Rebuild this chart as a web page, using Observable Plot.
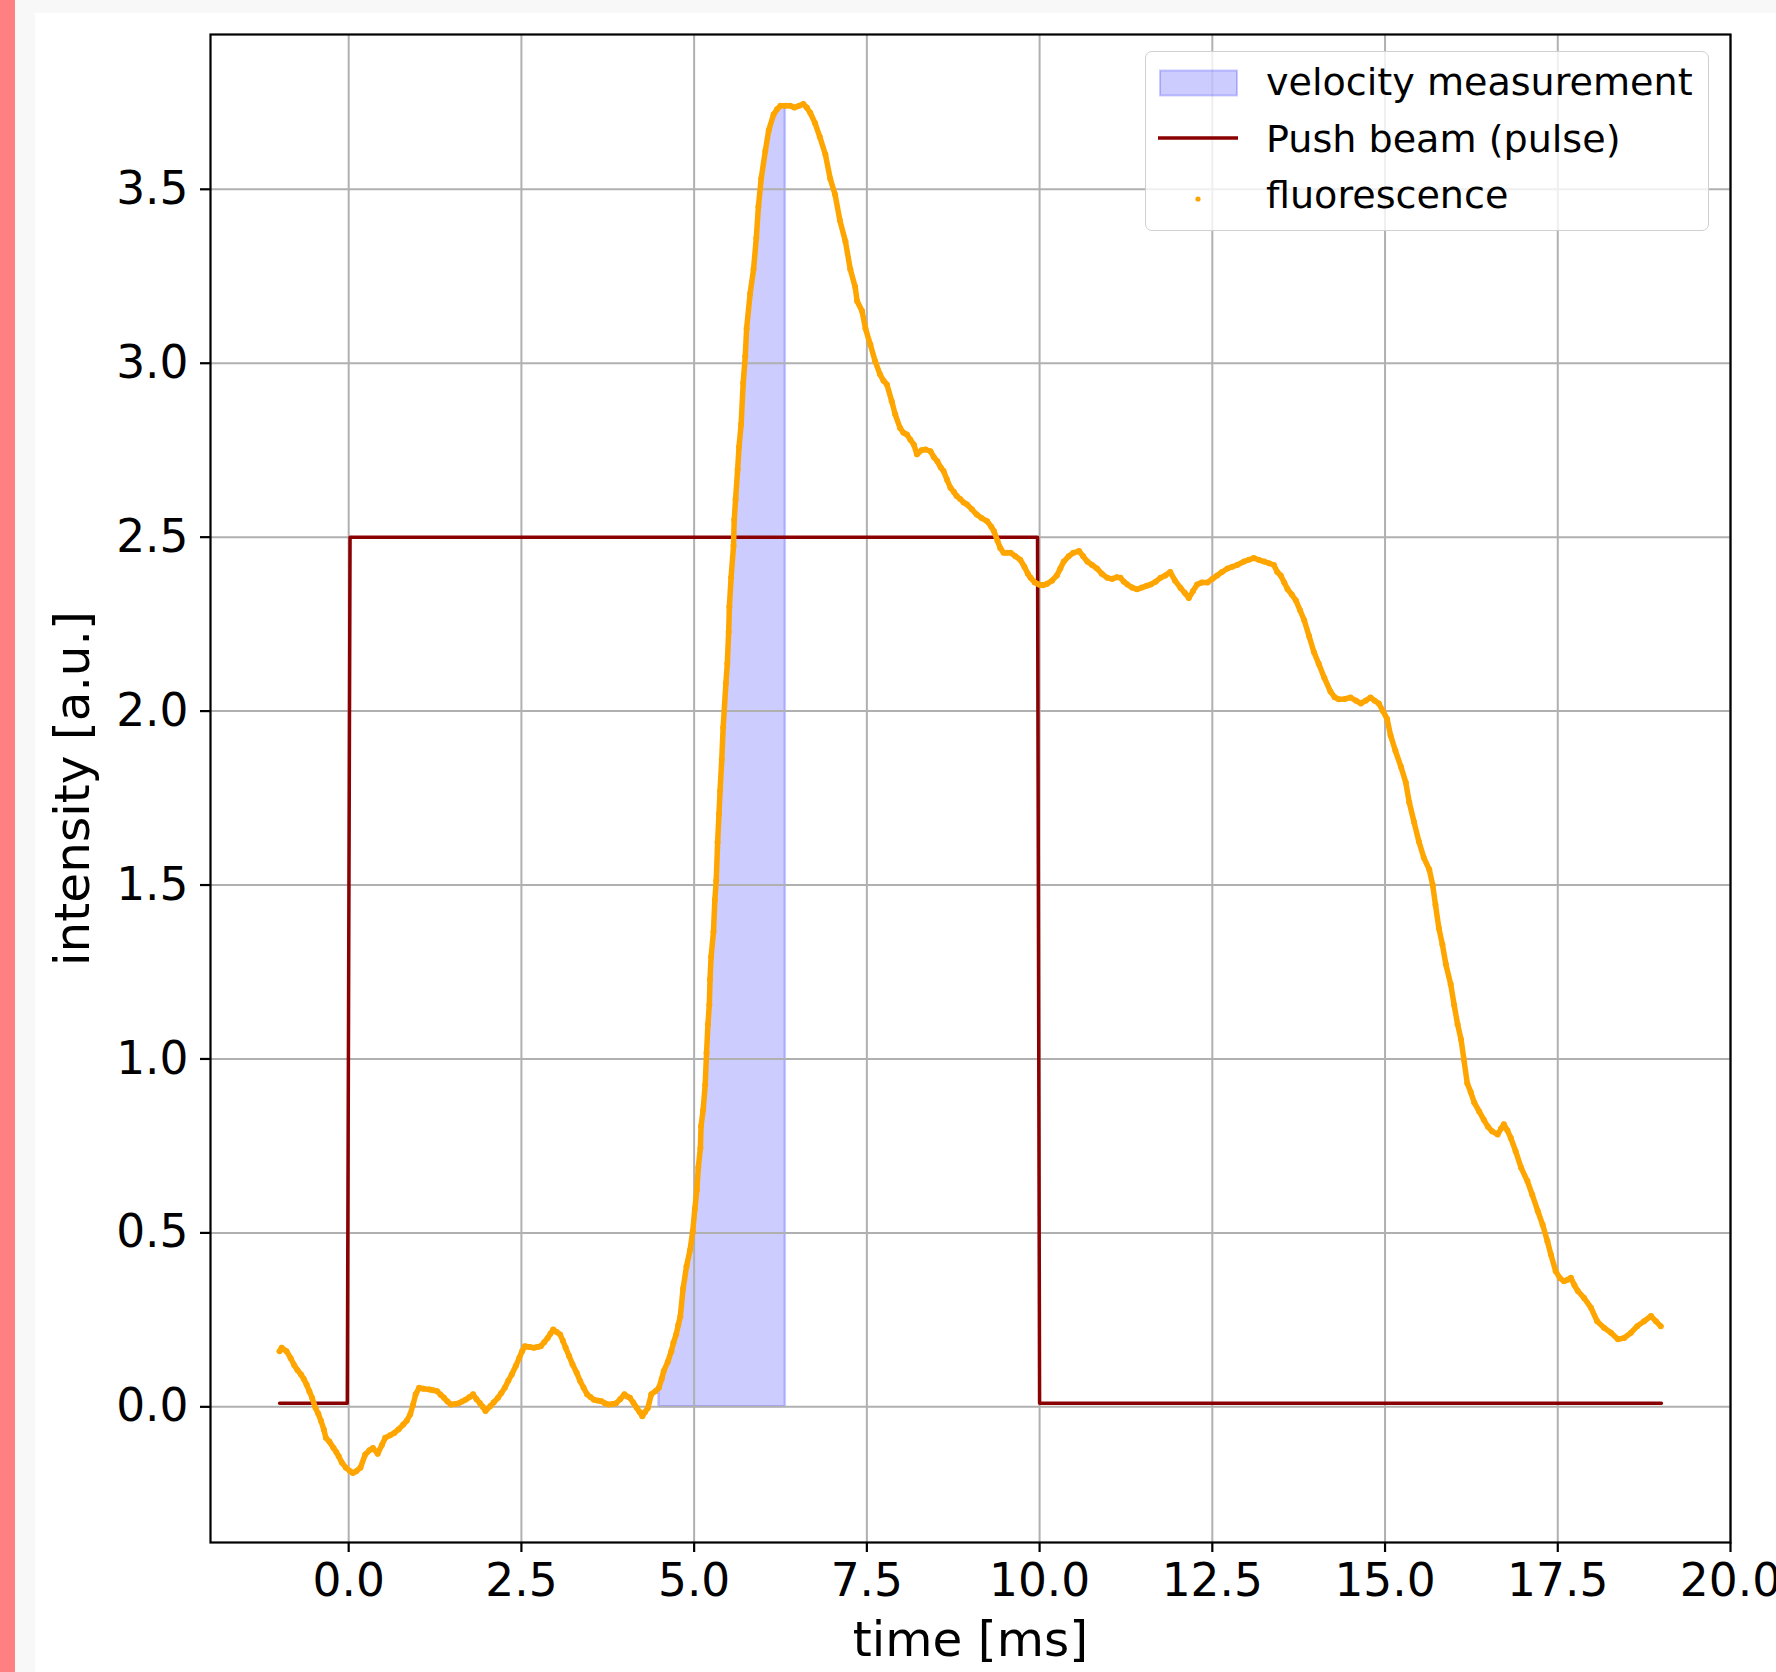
<!DOCTYPE html>
<html>
<head>
<meta charset="utf-8">
<script src="https://cdn.jsdelivr.net/npm/d3@7"></script>
<script src="https://cdn.jsdelivr.net/npm/@observablehq/plot@0.6"></script>
<style>
html, body { margin: 0; padding: 0; }
body { width: 1776px; height: 1672px; background: #f8f8f8; position: relative; overflow: hidden; font-family: "DejaVu Sans", sans-serif; }
#strip { position: absolute; left: 0; top: 0; width: 15px; height: 1672px; background: #ff8080; }
#fig { position: absolute; left: 35px; top: 13px; width: 1741px; height: 1659px; background: #ffffff; overflow: hidden; }
#fig svg.plot { display: block; max-width: none; }
#legend { position: absolute; left: 1110px; top: 38px; width: 564px; height: 180px; box-sizing: border-box;
  border: 1.5px solid #d0d0d0; border-radius: 7px; background: rgba(255,255,255,0.8); }
#legend svg { position: absolute; left: -1.5px; top: -1.5px; overflow: visible; }
</style>
</head>
<body>
<div id="strip"></div>
<div id="fig"></div>
<script>
// ---- data ----
const time = [
 -1.00,-0.97,-0.90,-0.84,-0.79,-0.74,-0.69,-0.65,-0.61,-0.57,-0.53,-0.48,-0.44,-0.40,-0.36,-0.33,-0.28,-0.22,-0.18,-0.145,
 -0.10,-0.04,0.02,0.06,0.11,0.17,0.24,0.30,0.35,0.42,0.48,0.53,0.60,0.66,0.72,0.79,0.84,0.89,0.93,0.97,
 1.02,1.08,1.17,1.22,1.28,1.33,1.38,1.43,1.48,1.54,1.59,1.64,1.69,1.75,1.80,1.85,1.90,1.94,1.98,2.05,
 2.10,2.16,2.21,2.26,2.31,2.36,2.42,2.47,2.51,2.55,2.62,2.68,2.73,2.78,2.83,2.88,2.92,2.96,3.01,3.06,
 3.10,3.14,3.19,3.24,3.30,3.35,3.40,3.45,3.50,3.55,3.60,3.66,3.71,3.76,3.82,3.87,3.93,3.99,4.03,4.07,
 4.12,4.17,4.21,4.25,4.29,4.33,4.38,4.44,4.49,4.53,4.56,4.62,4.67,4.70,4.74,4.77,4.80,4.84,4.89,4.94,
 4.98,5.01,5.04,5.06,5.09,5.10,5.13,5.16,5.18,5.20,5.22,5.23,5.245,5.28,5.30,5.32,5.34,5.36,5.375,5.40,
 5.42,5.46,5.48,5.50,5.51,5.535,5.57,5.58,5.60,5.63,5.65,5.68,5.71,5.74,5.76,5.81,5.86,5.90,5.93,5.97,
 6.03,6.08,6.15,6.20,6.25,6.32,6.39,6.45,6.52,6.58,6.63,6.68,6.75,6.82,6.90,6.97,7.04,7.11,7.19,7.26,
 7.33,7.36,7.43,7.48,7.55,7.62,7.69,7.74,7.79,7.86,7.91,7.98,8.03,8.08,8.13,8.18,8.225,8.29,8.35,8.42,
 8.47,8.52,8.57,8.61,8.66,8.71,8.76,8.80,8.85,8.90,8.95,9.02,9.09,9.16,9.24,9.30,9.34,9.39,9.43,9.48,
 9.53,9.58,9.65,9.72,9.78,9.83,9.87,9.93,9.99,10.05,10.11,10.18,10.25,10.30,10.35,10.42,10.49,10.57,10.63,10.69,
 10.76,10.83,10.90,10.98,11.05,11.12,11.17,11.22,11.27,11.34,11.41,11.48,11.55,11.61,11.68,11.75,11.82,11.89,11.96,12.04,
 12.10,12.16,12.22,12.28,12.35,12.43,12.50,12.57,12.64,12.72,12.79,12.86,12.96,13.03,13.10,13.17,13.25,13.32,13.39,13.44,
 13.49,13.54,13.59,13.65,13.71,13.77,13.83,13.90,13.97,14.04,14.12,14.21,14.27,14.33,14.42,14.50,14.58,14.65,14.72,14.79,
 14.85,14.91,14.97,15.03,15.08,15.15,15.23,15.30,15.35,15.42,15.49,15.56,15.64,15.69,15.73,15.78,15.83,15.88,15.95,16.00,
 16.05,16.10,16.14,16.19,16.24,16.29,16.36,16.43,16.49,16.55,16.63,16.68,16.72,16.77,16.82,16.89,16.97,17.06,17.13,17.21,
 17.28,17.35,17.40,17.47,17.53,17.59,17.64,17.69,17.74,17.79,17.88,17.98,18.07,18.17,18.27,18.37,18.46,18.56,18.65,18.75,
 18.85,18.92,18.99
];
const fluorescence = [
 0.16,0.17,0.16,0.14,0.12,0.105,0.093,0.08,0.064,0.045,0.026,-0.003,-0.02,-0.041,-0.065,-0.089,-0.10,-0.118,-0.13,-0.142,
 -0.16,-0.175,-0.185,-0.19,-0.185,-0.175,-0.137,-0.125,-0.118,-0.135,-0.11,-0.089,-0.082,-0.075,-0.065,-0.051,-0.04,-0.022,0.005,0.036,
 0.055,0.052,0.05,0.048,0.045,0.035,0.026,0.015,0.007,0.008,0.01,0.015,0.02,0.028,0.036,0.022,0.01,0.0,-0.012,0.002,
 0.013,0.026,0.04,0.055,0.075,0.093,0.118,0.141,0.16,0.174,0.172,0.17,0.172,0.174,0.186,0.198,0.21,0.222,0.215,0.208,
 0.19,0.17,0.146,0.122,0.098,0.074,0.055,0.036,0.028,0.02,0.018,0.016,0.01,0.007,0.008,0.01,0.022,0.036,0.03,0.026,
 0.012,-0.003,-0.015,-0.027,-0.015,-0.003,0.036,0.045,0.055,0.08,0.103,0.13,0.16,0.184,0.208,0.235,0.26,0.34,0.404,0.45,
 0.505,0.569,0.624,0.688,0.743,0.807,0.853,0.926,1.018,1.10,1.156,1.229,1.293,1.366,1.458,1.513,1.623,1.705,1.77,1.861,
 1.953,2.08,2.136,2.228,2.30,2.384,2.475,2.549,2.609,2.695,2.76,2.824,2.943,3.02,3.10,3.20,3.27,3.36,3.45,3.53,
 3.61,3.67,3.715,3.73,3.74,3.74,3.74,3.735,3.74,3.745,3.735,3.72,3.69,3.65,3.60,3.53,3.485,3.41,3.35,3.27,
 3.22,3.178,3.15,3.10,3.054,3.006,2.968,2.95,2.939,2.891,2.853,2.814,2.80,2.795,2.78,2.766,2.738,2.75,2.752,2.747,
 2.73,2.718,2.70,2.69,2.665,2.642,2.63,2.618,2.61,2.60,2.594,2.58,2.565,2.555,2.546,2.53,2.517,2.49,2.469,2.455,
 2.455,2.455,2.445,2.435,2.415,2.395,2.383,2.37,2.364,2.362,2.366,2.375,2.39,2.41,2.43,2.445,2.455,2.46,2.445,2.43,
 2.42,2.41,2.395,2.383,2.38,2.385,2.383,2.372,2.364,2.355,2.35,2.355,2.36,2.364,2.372,2.383,2.39,2.40,2.375,2.354,
 2.34,2.325,2.345,2.364,2.37,2.37,2.38,2.39,2.40,2.41,2.415,2.42,2.43,2.435,2.44,2.435,2.43,2.425,2.42,2.40,
 2.39,2.37,2.35,2.335,2.318,2.29,2.261,2.216,2.17,2.136,2.096,2.056,2.04,2.034,2.035,2.039,2.03,2.022,2.03,2.039,
 2.03,2.022,2.00,1.977,1.93,1.886,1.84,1.795,1.738,1.681,1.625,1.579,1.545,1.50,1.443,1.375,1.329,1.272,1.215,1.155,
 1.10,1.056,1.00,0.93,0.905,0.875,0.85,0.825,0.805,0.792,0.783,0.80,0.812,0.795,0.773,0.735,0.687,0.649,0.61,0.563,
 0.524,0.476,0.438,0.39,0.37,0.361,0.365,0.371,0.35,0.333,0.313,0.285,0.246,0.227,0.213,0.194,0.198,0.213,0.232,0.246,
 0.261,0.246,0.232
];
const pulseTime  = [-1.0, -0.02, 0.02, 9.97, 10.0, 19.0];
const pulseValue = [0.01, 0.01, 2.5, 2.5, 0.01, 0.01];
const windowStart = 4.49;   // velocity measurement window [ms]
const windowEnd = 6.32;
const xTicks = [0.0, 2.5, 5.0, 7.5, 10.0, 12.5, 15.0, 17.5, 20.0];
const yTicks = [0.0, 0.5, 1.0, 1.5, 2.0, 2.5, 3.0, 3.5];
const xDomain = [-2, 20];
const yDomain = [-0.39, 3.945];
const legendLabels = ["velocity measurement", "Push beam (pulse)", "fluorescence"];

// ---- build tables ----
const fluo = time.map((t, i) => ({t, v: fluorescence[i]}));
const pulse = pulseTime.map((t, i) => ({t, v: pulseValue[i]}));
const windowData = fluo.filter(d => d.t >= windowStart && d.t <= windowEnd);

const FONT = "DejaVu Sans";
const fmt = d => d.toFixed(1);

const chart = Plot.plot({
  width: 1741,
  height: 1659,
  marginLeft: 175,
  marginTop: 21,
  marginRight: 46,
  marginBottom: 130,
  style: {fontFamily: FONT, color: "#000", background: "#fff", overflow: "visible"},
  x: {domain: xDomain, type: "linear"},
  y: {domain: yDomain, type: "linear"},
  marks: [
    Plot.areaY(windowData, {x: "t", y1: 0, y2: "v", fill: "blue", fillOpacity: 0.2, stroke: "blue", strokeOpacity: 0.2, strokeWidth: 2.5}),
    Plot.gridX({ticks: xTicks, stroke: "#b0b0b0", strokeOpacity: 1, strokeWidth: 2}),
    Plot.gridY({ticks: yTicks, stroke: "#b0b0b0", strokeOpacity: 1, strokeWidth: 2}),
    Plot.line(pulse, {x: "t", y: "v", stroke: "#8b0000", strokeWidth: 3.5}),
    Plot.line(fluo, {x: "t", y: "v", stroke: "#ffa500", strokeWidth: 5.5}),
    Plot.dot(fluo, {x: "t", y: "v", r: 3, fill: "#ffa500", stroke: "none"}),
    Plot.frame({stroke: "#000", strokeWidth: 2.2}),
    Plot.axisX({ticks: xTicks, tickFormat: fmt, tickSize: 10, tickPadding: 11, fontSize: 45.5, strokeWidth: 2.2, label: null}),
    Plot.axisY({ticks: yTicks, tickFormat: fmt, tickSize: 10, tickPadding: 12, fontSize: 45.5, strokeWidth: 2.2, label: null}),
    Plot.axisX({ticks: [], label: "time [ms]", labelAnchor: "center", labelArrow: "none", labelOffset: 113, fontSize: 48.5}),
    Plot.axisY({ticks: [], label: "intensity [a.u.]", labelAnchor: "center", labelArrow: "none", labelOffset: 156, fontSize: 48.5})
  ]
});
const fig = document.getElementById("fig");
fig.appendChild(chart);

// ---- legend ----
const legend = document.createElement("div");
legend.id = "legend";
const NS = "http://www.w3.org/2000/svg";
const lsvg = document.createElementNS(NS, "svg");
lsvg.setAttribute("width", 564);
lsvg.setAttribute("height", 180);
const baselines = [44, 100.7, 157.3];
const patch = document.createElementNS(NS, "rect");
patch.setAttribute("x", 15); patch.setAttribute("y", 19.5);
patch.setAttribute("width", 77); patch.setAttribute("height", 25);
patch.setAttribute("fill", "rgba(0,0,255,0.2)");
patch.setAttribute("stroke", "rgba(0,0,255,0.2)");
patch.setAttribute("stroke-width", 2);
lsvg.appendChild(patch);
const ln = document.createElementNS(NS, "line");
ln.setAttribute("x1", 13); ln.setAttribute("x2", 93);
ln.setAttribute("y1", 87); ln.setAttribute("y2", 87);
ln.setAttribute("stroke", "#8b0000"); ln.setAttribute("stroke-width", 3.5);
lsvg.appendChild(ln);
const dt = document.createElementNS(NS, "circle");
dt.setAttribute("cx", 53); dt.setAttribute("cy", 148); dt.setAttribute("r", 2.6);
dt.setAttribute("fill", "#ffa500");
lsvg.appendChild(dt);
legendLabels.forEach((s, i) => {
  const tx = document.createElementNS(NS, "text");
  tx.setAttribute("x", 121);
  tx.setAttribute("y", baselines[i]);
  tx.setAttribute("font-family", FONT);
  tx.setAttribute("font-size", 38.1);
  tx.setAttribute("fill", "#000");
  tx.textContent = s;
  lsvg.appendChild(tx);
});
legend.appendChild(lsvg);
fig.appendChild(legend);
</script>
</body>
</html>
